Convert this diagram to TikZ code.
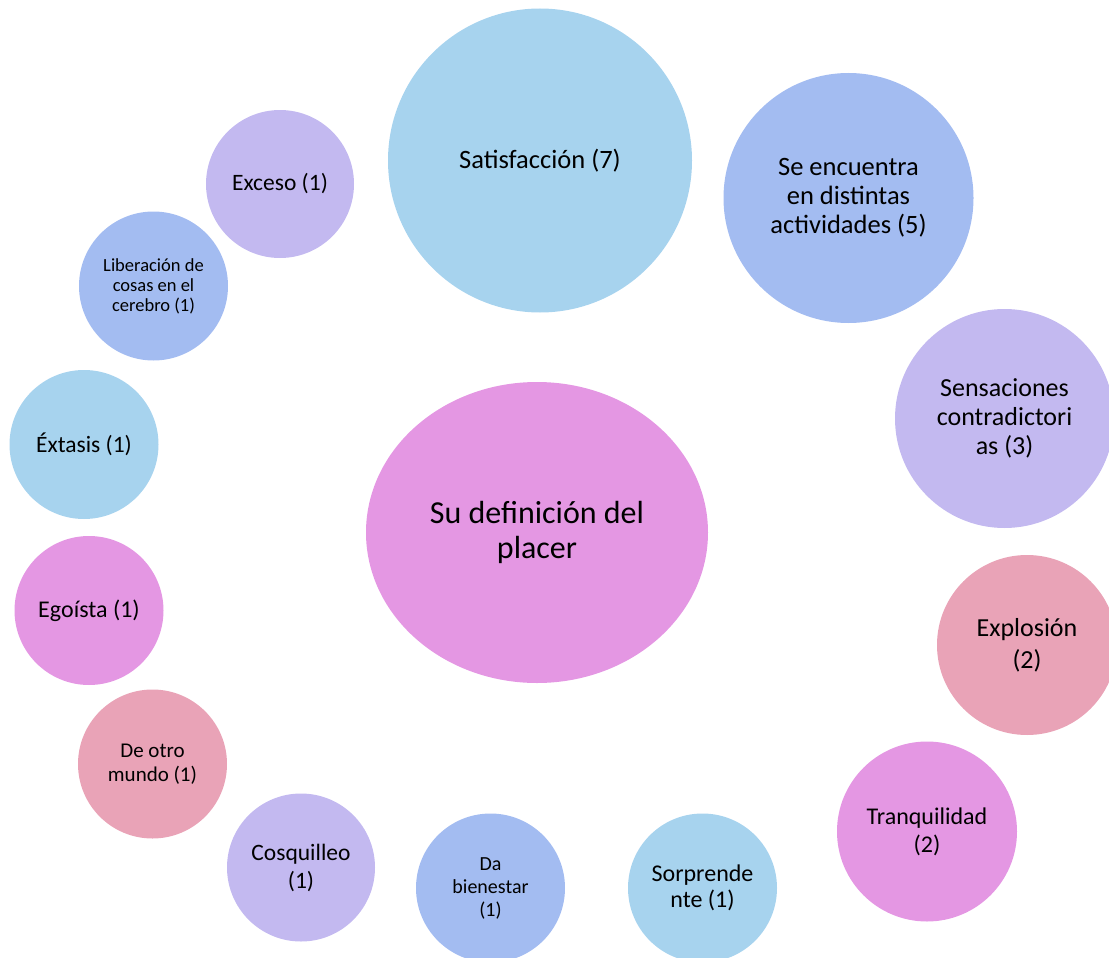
\documentclass[tikz,border=0pt]{standalone}
\usepackage{fontspec}
\setmainfont{Carlito}
\usetikzlibrary{shapes.geometric}
\begin{document}
\begin{tikzpicture}[x=1pt,y=-1pt,
  bubble/.style={circle,draw=none,inner sep=0pt,align=center,text=black}]
\definecolor{cLightBlue}{HTML}{A7D3EE}
\definecolor{cBlue}{HTML}{A3BCF1}
\definecolor{cLavender}{HTML}{C3B9F0}
\definecolor{cRose}{HTML}{E9A3B7}
\definecolor{cOrchid}{HTML}{E497E3}
\useasboundingbox (0,0) rectangle (1109,958);

% central ellipse
\node[ellipse, draw=none, fill=cOrchid, inner sep=0pt, minimum width=342, minimum height=301,
      align=center, font=\fontsize{32}{35}\selectfont] (centre) at (537,532.5) {Su definición del\\placer};

% surrounding bubbles
\node[bubble, fill=cLightBlue, minimum size=304, font=\fontsize{26.5}{30}\selectfont] (satis) at (540,160.5) {Satisfacción (7)};
\node[bubble, fill=cBlue, minimum size=250, font=\fontsize{26.5}{29}\selectfont] (encuentra) at (848.5,198) {Se encuentra\\en distintas\\actividades (5)};
\node[bubble, fill=cLavender, minimum size=219, font=\fontsize{26}{29}\selectfont] (sensaciones) at (1004.5,418.5) {Sensaciones\\contradictori\\as (3)};
\node[bubble, fill=cRose, minimum size=180, font=\fontsize{26}{32}\selectfont] (explosion) at (1027,645) {Explosión\\(2)};
\node[bubble, fill=cOrchid, minimum size=180, font=\fontsize{24}{28}\selectfont] (tranquilidad) at (927,831.5) {Tranquilidad\\(2)};
\node[bubble, fill=cLightBlue, minimum size=149, font=\fontsize{24}{26}\selectfont] (sorprende) at (702.5,888) {Sorprende\\nte (1)};
\node[bubble, fill=cBlue, minimum size=149, font=\fontsize{20}{23}\selectfont] (bienestar) at (490.5,888) {Da\\bienestar\\(1)};
\node[bubble, fill=cLavender, minimum size=148, font=\fontsize{23.5}{28}\selectfont] (cosquilleo) at (301,867.5) {Cosquilleo\\(1)};
\node[bubble, fill=cRose, minimum size=149, font=\fontsize{21}{24}\selectfont] (otromundo) at (152.5,764) {De otro\\mundo (1)};
\node[bubble, fill=cOrchid, minimum size=149, font=\fontsize{24}{26}\selectfont] (egoista) at (89,610.5) {Egoísta (1)};
\node[bubble, fill=cLightBlue, minimum size=149, font=\fontsize{23.5}{26}\selectfont] (extasis) at (84,444.5) {Éxtasis (1)};
\node[bubble, fill=cBlue, minimum size=149, font=\fontsize{18.5}{20}\selectfont] (liberacion) at (153.5,286) {Liberación de\\cosas en el\\cerebro (1)};
\node[bubble, fill=cLavender, minimum size=148, font=\fontsize{23.5}{26}\selectfont] (exceso) at (280,184) {Exceso (1)};
\end{tikzpicture}
\end{document}
